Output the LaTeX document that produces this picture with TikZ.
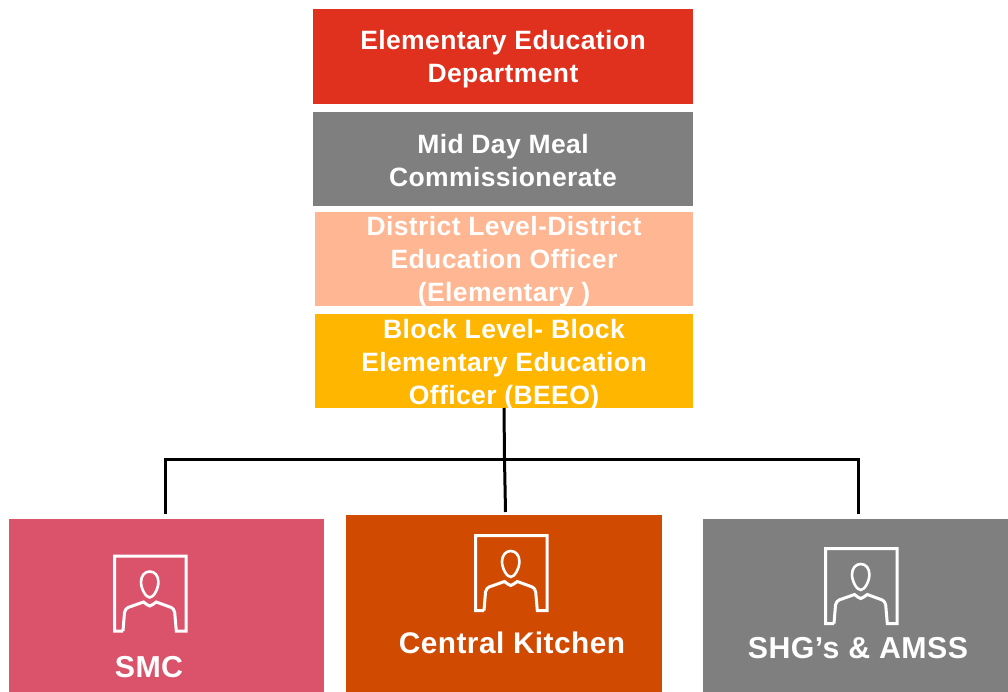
\documentclass[tikz,border=0pt]{standalone}
\usepackage{fontspec}
\setmainfont{Liberation Sans}[LetterSpace=1.5]
\definecolor{cred}{HTML}{E0301E}
\definecolor{cgray}{HTML}{7F7F7F}
\definecolor{cpeach}{HTML}{FFB692}
\definecolor{cyell}{HTML}{FFB600}
\definecolor{cpink}{HTML}{DB536A}
\definecolor{cor}{HTML}{D04A02}
\newcommand{\tiertext}[3]{\raisebox{#2}[0pt][0pt]{\parbox{#1}{\centering #3}}}
\tikzset{
  x=1pt,y=-1pt,
  tier/.style={rectangle,inner sep=0pt,outer sep=0pt,align=center,text=white,
    font=\fontsize{26.5}{33}\selectfont\bfseries},
  unit/.style={rectangle,inner sep=0pt,outer sep=0pt},
  unitlabel/.style={inner sep=0pt,outer sep=0pt,text=white,anchor=base,
    font=\fontsize{29.8}{33}\selectfont\bfseries},
  widelabel/.style={unitlabel,font=\fontsize{30.3}{33}\selectfont\bfseries},
  wire/.style={draw=black,line width=3pt},
  person/.pic={
    \draw[white,line width=3pt,miter limit=10]
      (8.5,75) -- (0,75) -- (0,0) -- (71.5,0) -- (71.5,75) -- (61.8,75)
      -- (60.2,56.5)
      .. controls (59.8,54) and (58.5,52.5) .. (56.8,51.5)
      -- (41.8,46)
      .. controls (39,48) and (37,49.5) .. (35.2,50)
      .. controls (33.4,49.5) and (31.5,48) .. (29,46)
      -- (13.5,51.5)
      .. controls (11.8,52.5) and (10.5,54) .. (10,56.5)
      -- (8.5,75);
    \draw[white,line width=2.6pt]
      (35.2,15.5) .. controls (40.5,15.5) and (43.9,20) .. (43.9,26)
      .. controls (43.9,33) and (39,41.5) .. (35.2,41.5)
      .. controls (31.4,41.5) and (26.5,33) .. (26.5,26)
      .. controls (26.5,20) and (30,15.5) .. (35.2,15.5) -- cycle;
  }
}
\begin{document}
\begin{tikzpicture}
\useasboundingbox (0,0) rectangle (1008,692);
\node[tier,fill=cred,minimum width=380pt,minimum height=95pt] (dept) at (503,56.5) {\tiertext{380pt}{-9pt}{Elementary Education\\Department}};
\node[tier,fill=cgray,minimum width=380pt,minimum height=94pt] (mdm) at (503,159) {\tiertext{380pt}{-7.5pt}{Mid Day Meal\\Commissionerate}};
\node[tier,fill=cpeach,minimum width=378pt,minimum height=94pt] (district) at (504,259) {\tiertext{378pt}{-9pt}{District Level-District\\Education Officer\\(Elementary )}};
\node[tier,fill=cyell,minimum width=378pt,minimum height=94pt] (block) at (504,361) {\tiertext{378pt}{-9.5pt}{Block Level- Block\\Elementary Education\\Officer (BEEO)}};
\node[unit,fill=cpink,minimum width=315pt,minimum height=173pt] (smc) at (166.5,605.5) {};
\node[unit,fill=cor,minimum width=316pt,minimum height=177pt] (ck) at (504,603.5) {};
\node[unit,fill=cgray,minimum width=305pt,minimum height=173pt] (shg) at (855.5,605.5) {};
\pic at (114.5,556) {person};
\pic at (475.5,535.5) {person};
\pic at (825.5,548.5) {person};
\node[widelabel] (smct) at (149,677) {SMC};
\node[unitlabel] (ckt) at (512,653) {Central Kitchen};
\node[widelabel] (shgt) at (858,658) {SHG’s \& AMSS};
\coordinate (j) at (504.5,459);
\coordinate (jl) at (165,459);
\coordinate (jr) at (858.5,459);
\coordinate (dl) at (165,512);
\coordinate (dc) at (505.5,512);
\coordinate (dr) at (858.5,512);
\draw[wire] (block.south) -- (j);
\draw[wire,line cap=rect] (dl) -- (jl) -- (jr) -- (dr);
\draw[wire] (j) -- (dc);
\end{tikzpicture}
\end{document}
